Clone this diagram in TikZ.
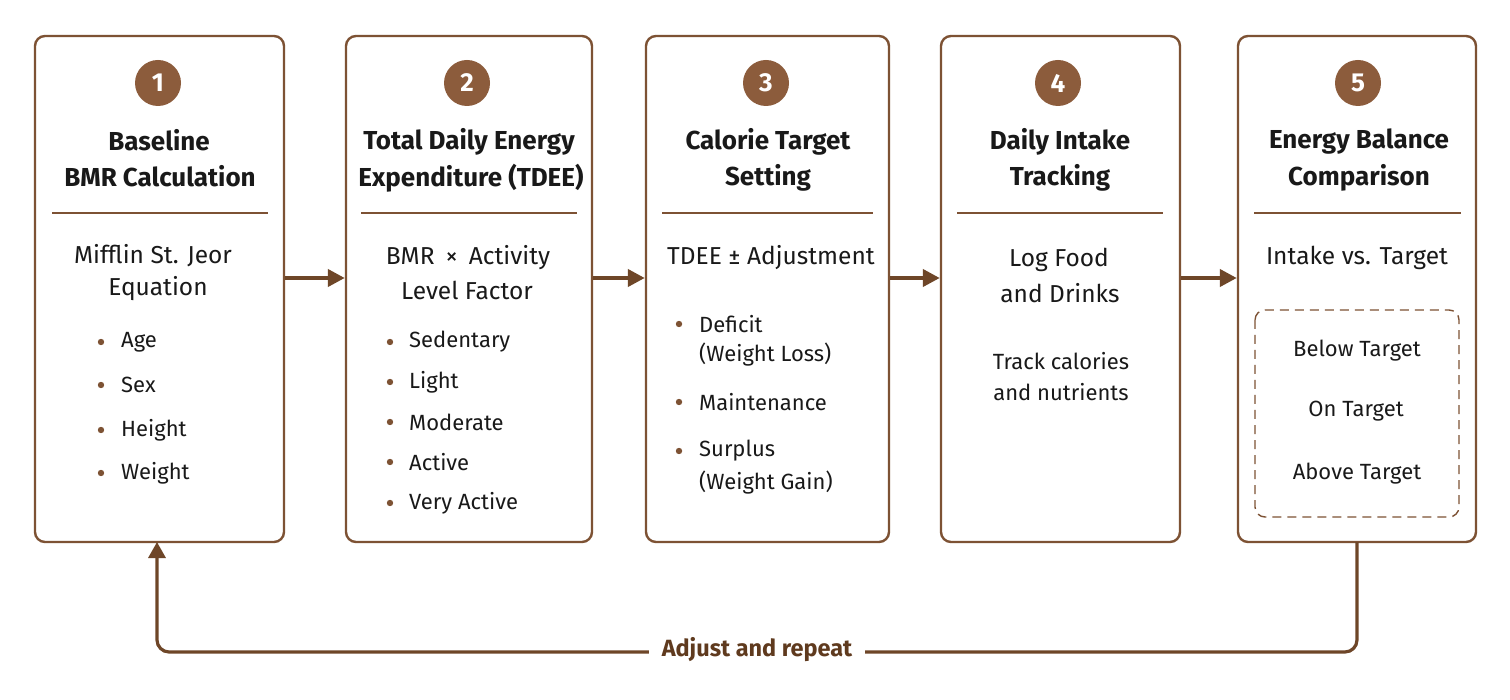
\documentclass[tikz,border=0pt]{standalone}
\usepackage{fontspec}
\setmainfont{Fira Sans}
\usetikzlibrary{arrows.meta}
\definecolor{bordercol}{RGB}{125,82,52}
\definecolor{circcol}{RGB}{140,92,60}
\definecolor{arrowcol}{RGB}{110,70,40}
\definecolor{labelcol}{RGB}{95,58,30}
\definecolor{textcol}{RGB}{25,25,25}
\begin{document}
\begin{tikzpicture}[x=1pt,y=-1pt,
  stagebox/.style={draw=bordercol, line width=2.4pt, rounded corners=10pt, fill=white, inner sep=0pt, minimum height=506pt},
  numcirc/.style={circle, fill=circcol, text=white, font=\fontsize{26}{26}\selectfont\bfseries, minimum size=46pt, inner sep=0pt},
  titletext/.style={font=\fontsize{26}{30}\selectfont\bfseries, text=textcol, inner sep=0pt},
  subtext/.style={font=\fontsize{24.5}{28}\selectfont, text=textcol, inner sep=0pt},
  bodytext/.style={font=\fontsize{22}{26}\selectfont, text=textcol, inner sep=0pt},
  itemtext/.style={bodytext, anchor=west},
  sepline/.style={draw=bordercol, line width=1.3pt},
  flowarrow/.style={draw=arrowcol, line width=4pt, -{Triangle[length=17pt,width=17pt]}},
  bulletdot/.style={fill=bordercol},
  dashbox/.style={draw=bordercol, line width=1.4pt, dash pattern=on 9pt off 6pt, rounded corners=10pt}
]
\useasboundingbox (0,0) rectangle (1510,700);
\fill[white] (0,0) rectangle (1510,700);

% boxes
\node[stagebox, minimum width=249pt] (b1) at (159.5,289) {};
\node[stagebox, minimum width=246pt] (b2) at (469,289) {};
\node[stagebox, minimum width=243pt] (b3) at (767.5,289) {};
\node[stagebox, minimum width=239pt] (b4) at (1060.5,289) {};
\node[stagebox, minimum width=238pt] (b5) at (1357,289) {};

% number circles
\node[numcirc] (c1) at (158,83) {1};
\node[numcirc] (c2) at (467,83) {2};
\node[numcirc] (c3) at (766,83) {3};
\node[numcirc] (c4) at (1058,83) {4};
\node[numcirc] (c5) at (1358,83) {5};

% titles
\node[titletext] (t1a) at (159,140) {Baseline};
\node[titletext] (t1b) at (160,176) {BMR Calculation};
\node[titletext] (t2a) at (469,142) {Total Daily Energy};
\node[titletext] (t2b) at (471,178) {Expenditure (TDEE)};
\node[titletext] (t3a) at (768,142) {Calorie Target};
\node[titletext] (t3b) at (768,178) {Setting};
\node[titletext] (t4a) at (1060,142) {Daily Intake};
\node[titletext] (t4b) at (1060,178) {Tracking};
\node[titletext] (t5a) at (1359,142) {Energy Balance};
\node[titletext] (t5b) at (1359,178) {Comparison};

% separators
\draw[sepline] (52,213) -- (268,213);
\draw[sepline] (361,213) -- (577,213);
\draw[sepline] (662,213) -- (873,213);
\draw[sepline] (957,213) -- (1163,213);
\draw[sepline] (1254,213) -- (1461,213);

% box 1 body
\node[subtext] (m1) at (153,256) {Mifflin St. Jeor};
\node[subtext] (m2) at (158,289) {Equation};
\foreach \y/\t in {342/Age,385/Sex,430/Height,473/Weight}{
  \fill[bulletdot] (101,\y) circle (3.2);
  \node[itemtext] at (121,\y) {\t};
}

% box 2 body
\node[subtext] (n1) at (468,258) {BMR\hspace{0.45em}×\hspace{0.45em}Activity};
\node[subtext] (n2) at (467,290) {Level Factor};
\foreach \y/\t in {342/Sedentary,382/Light,422/Moderate,462/Active,503/Very Active}{
  \fill[bulletdot] (390,\y) circle (3.2);
  \node[itemtext] at (409,\y) {\t};
}

% box 3 body
\node[subtext] (p1) at (771,258) {TDEE ± Adjustment};
\fill[bulletdot] (679,324) circle (3.2);
\node[itemtext] at (699,324) {Deficit};
\node[itemtext] at (699,355) {(Weight Loss)};
\fill[bulletdot] (679,402) circle (3.2);
\node[itemtext] at (699,402) {Maintenance};
\fill[bulletdot] (679,451) circle (3.2);
\node[itemtext] at (699,451) {Surplus};
\node[itemtext] at (699,483) {(Weight Gain)};

% box 4 body
\node[subtext] (q1) at (1059,260) {Log Food};
\node[subtext] (q2) at (1060,293) {and Drinks};
\node[bodytext] (q3) at (1061,361) {Track calories};
\node[bodytext] (q4) at (1061,392) {and nutrients};

% box 5 body
\node[subtext] (r1) at (1357,258) {Intake vs. Target};
\draw[dashbox] (1255,310) rectangle (1459,517);
\node[bodytext] (r2) at (1357,351) {Below Target};
\node[bodytext] (r3) at (1356,411) {On Target};
\node[bodytext] (r4) at (1357,474) {Above Target};

% arrows between stages
\draw[flowarrow] (b1.east |- 0,278) -- (b2.west |- 0,278);
\draw[flowarrow] (b2.east |- 0,278) -- (b3.west |- 0,278);
\draw[flowarrow] (b3.east |- 0,278) -- (b4.west |- 0,278);
\draw[flowarrow] (b4.east |- 0,278) -- (b5.west |- 0,278);

% feedback loop
\coordinate (lr) at (1357,652);
\coordinate (ll) at (157,652);
\draw[draw=arrowcol, line width=3.2pt, rounded corners=12pt, -{Triangle[length=16pt,width=17pt]}]
  (1357,542) -- (lr) -- (ll) -- (157,542);
\node[fill=white, inner xsep=13pt, inner ysep=4pt, font=\fontsize{23.5}{27}\selectfont\bfseries, text=labelcol] (lab) at (757,650) {Adjust and repeat};
\end{tikzpicture}
\end{document}
